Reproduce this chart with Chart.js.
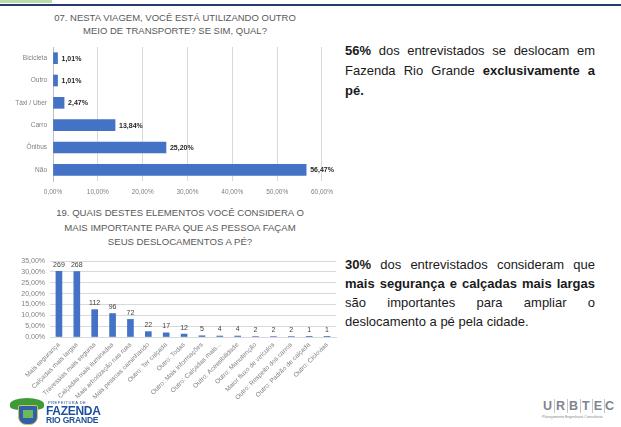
<!DOCTYPE html>
<html lang="pt-BR">
<head>
<meta charset="utf-8">
<title>Deslocamentos a pé - Fazenda Rio Grande</title>
<script src="https://cdn.jsdelivr.net/npm/chart.js@4"></script>
<style>
  html, body { margin: 0; padding: 0; background: #fff; }
  body { width: 621px; height: 427px; position: relative; overflow: hidden; font-family: 'Liberation Sans', Arial, sans-serif; }
  .topgreen { position: absolute; left: 0; top: 0; width: 52px; height: 3px; background: #b9dca8; }
  .topbar { position: absolute; left: 0; top: 4px; width: 621px; height: 2px; background: #213d6b; }
  .ttl { position: absolute; left: 0; text-align: center; color: #595959; white-space: nowrap; }
  #ttl1 { top: 11px; width: 350px; font-size: 9.5px; line-height: 13px; }
  #ttl2 { top: 206px; width: 360px; font-size: 9.6px; line-height: 14.5px; }
  #box1 { position: absolute; left: 0; top: 8px; width: 340px; height: 192px; }
  #box2 { position: absolute; left: 0; top: 196px; width: 340px; height: 204px; }
  .note { position: absolute; left: 345px; width: 250px; font-size: 13px; color: #1a1a1a; }
  .note div { line-height: 19px; text-align: justify; text-align-last: justify; white-space: nowrap; }
  .note div.last { text-align-last: left; }
  #note1 div { line-height: 20px; }
  .pref { position: absolute; left: 6px; top: 396px; width: 100px; height: 30px; }
  .pref .leaf { position: absolute; left: 4px; top: 2px; width: 34px; height: 12px; background: #3f9b3a; border-radius: 50% 50% 30% 30%; }
  .pref .shield { position: absolute; left: 12px; top: 9px; width: 18px; height: 18px; background: #2f5fae; border-radius: 2px 2px 8px 8px; border: 1px solid #d9c24a; }
  .pref .shield i { position: absolute; left: 4px; top: 4px; width: 10px; height: 8px; background: #6fb85a; }
  .pref .t0 { position: absolute; left: 42px; top: 4px; font-size: 4px; color: #2b4f8f; letter-spacing: 0.5px; }
  .pref .t1 { position: absolute; left: 40px; top: 8px; font-size: 12px; font-weight: bold; color: #1d4f9e; letter-spacing: -0.3px; }
  .pref .t2 { position: absolute; left: 40px; top: 19px; font-size: 8.5px; font-weight: bold; color: #1d4f9e; letter-spacing: -0.2px; }
  .urb { position: absolute; left: 542px; top: 399px; width: 79px; height: 28px; color: #80858f; }
  .urb .w { font-size: 12.5px; font-weight: bold; white-space: nowrap; }
  .urb .w span { border-right: 1px solid #c2c5ca; padding: 0 2px 0 1px; }
  .urb .s { font-size: 3.6px; margin-top: 2px; white-space: nowrap; }
</style>
</head>
<body>
<div class="topgreen"></div>
<div class="topbar"></div>

<div class="ttl" id="ttl1">07. NESTA VIAGEM, VOCÊ ESTÁ UTILIZANDO OUTRO<br>MEIO DE TRANSPORTE? SE SIM, QUAL?</div>
<div class="ttl" id="ttl2">19. QUAIS DESTES ELEMENTOS VOCÊ CONSIDERA O<br>MAIS IMPORTANTE PARA QUE AS PESSOA FAÇAM<br>SEUS DESLOCAMENTOS A PÉ?</div>

<div id="box1"><canvas id="transporte" width="340" height="192"></canvas></div>
<div id="box2"><canvas id="elementos" width="340" height="204"></canvas></div>

<div class="note" id="note1" style="top:41px">
  <div><b>56%</b> dos entrevistados se deslocam em</div>
  <div>Fazenda Rio Grande <b>exclusivamente a</b></div>
  <div class="last"><b>pé.</b></div>
</div>

<div class="note" style="top:255px">
  <div><b>30%</b> dos entrevistados consideram que</div>
  <div><b>mais segurança e calçadas mais largas</b></div>
  <div>são importantes para ampliar o</div>
  <div class="last">deslocamento a pé pela cidade.</div>
</div>

<div class="pref">
  <div class="leaf"></div>
  <div class="shield"><i></i></div>
  <div class="t0">PREFEITURA DE</div>
  <div class="t1">FAZENDA</div>
  <div class="t2">RIO GRANDE</div>
</div>

<div class="urb">
  <div class="w"><span>U</span><span>R</span><span>B</span><span>T</span><span>E</span>C</div>
  <div class="s">Planejamento Engenharia Consultoria</div>
</div>

<script>
// Pergunta 07 - outro meio de transporte (%)
const transportLabels = ['Bicicleta', 'Outro', 'Táxi / Uber', 'Carro', 'Ônibus', 'Não'];
const transportValues = [1.01, 1.01, 2.47, 13.84, 25.20, 56.47];
const transportTicks = [0, 10, 20, 30, 40, 50, 60];

// Pergunta 19 - elementos mais importantes (número de respostas)
const elementLabels = [
  'Mais segurança', 'Calçadas mais largas', 'Travessias mais seguras',
  'Calçadas mais iluminadas', 'Mais arborização nas ruas', 'Mais pessoas caminhando',
  'Outro: Ter calçada', 'Outro: Todas', 'Outro: Mais informações',
  'Outro: Calçadas mais...', 'Outro: Acessibilidade', 'Outro: Manutenção',
  'Maior fluxo de veículos', 'Outro: Respeito dos carros', 'Outro: Padrão de calçada',
  'Outro: Ciclovias'
];
const elementCounts = [269, 268, 112, 96, 72, 22, 17, 12, 5, 4, 4, 2, 2, 2, 1, 1];
const elementTicks = [0, 5, 10, 15, 20, 25, 30, 35]; // % do total

const BLUE = '#4472c4';
const GRID = '#d9d9d9';
const GREY_TXT = '#7f7f7f';
const FONT = "'Liberation Sans', Arial, sans-serif";

const pct = v => v.toFixed(2).replace('.', ',') + '%';

// escreve o valor de cada barra na ponta dela
function barValues(texts, font, color) {
  return {
    id: 'barValues',
    afterDatasetsDraw(chart) {
      const ctx = chart.ctx;
      const horizontal = chart.options.indexAxis === 'y';
      ctx.save();
      ctx.font = font;
      ctx.fillStyle = color;
      chart.getDatasetMeta(0).data.forEach((bar, i) => {
        if (horizontal) {
          ctx.textAlign = 'left';
          ctx.textBaseline = 'middle';
          ctx.fillText(texts[i], bar.x + 4, bar.y + 0.5);
        } else {
          ctx.textAlign = 'center';
          ctx.textBaseline = 'bottom';
          ctx.fillText(texts[i], bar.x, bar.y - 3);
        }
      });
      ctx.restore();
    }
  };
}

new Chart(document.getElementById('transporte'), {
  type: 'bar',
  data: {
    labels: transportLabels,
    datasets: [{
      data: transportValues,
      backgroundColor: BLUE,
      barThickness: 11
    }]
  },
  options: {
    indexAxis: 'y',
    responsive: false,
    animation: false,
    layout: { padding: { left: 0, right: 12, top: 39, bottom: 0 } },
    plugins: {
      legend: { display: false },
      tooltip: { enabled: false }
    },
    scales: {
      x: {
        min: 0,
        max: 60,
        afterBuildTicks: s => { s.ticks = transportTicks.map(v => ({ value: v })); },
        afterFit: s => { s.height = 19; },
        grid: { color: GRID, drawTicks: false },
        border: { display: false },
        ticks: { callback: v => pct(v), color: GREY_TXT, font: { family: FONT, size: 6.5 }, padding: 7 }
      },
      y: {
        afterFit: s => { s.width = 53; },
        grid: { display: false, drawTicks: false },
        border: { color: '#bfbfbf' },
        ticks: { color: GREY_TXT, font: { family: FONT, size: 6.5 }, padding: 6 }
      }
    }
  },
  plugins: [barValues(transportValues.map(pct), 'bold 7px ' + FONT, '#262626')]
});

const total = elementCounts.reduce((a, b) => a + b, 0);

new Chart(document.getElementById('elementos'), {
  type: 'bar',
  data: {
    labels: elementLabels,
    datasets: [{
      data: elementCounts,
      backgroundColor: BLUE,
      barThickness: 6
    }]
  },
  options: {
    responsive: false,
    animation: false,
    layout: { padding: { left: 0, right: 4, top: 65, bottom: 0 } },
    plugins: {
      legend: { display: false },
      tooltip: { enabled: false }
    },
    scales: {
      x: {
        afterFit: s => { s.height = 63; },
        grid: { display: false, drawTicks: false },
        border: { color: GRID },
        ticks: {
          autoSkip: false,
          maxRotation: 45,
          minRotation: 45,
          color: GREY_TXT,
          font: { family: FONT, size: 6.5 },
          padding: 4
        }
      },
      y: {
        min: 0,
        max: total * 0.35,
        afterBuildTicks: s => { s.ticks = elementTicks.map(p => ({ value: total * p / 100 })); },
        afterFit: s => { s.width = 50; },
        grid: { color: GRID, drawTicks: false },
        border: { display: false },
        ticks: {
          autoSkip: false,
          callback: v => pct(v / total * 100),
          color: GREY_TXT,
          font: { family: FONT, size: 7 },
          padding: 5
        }
      }
    }
  },
  plugins: [barValues(elementCounts.map(String), '7px ' + FONT, '#404040')]
});
</script>
</body>
</html>
